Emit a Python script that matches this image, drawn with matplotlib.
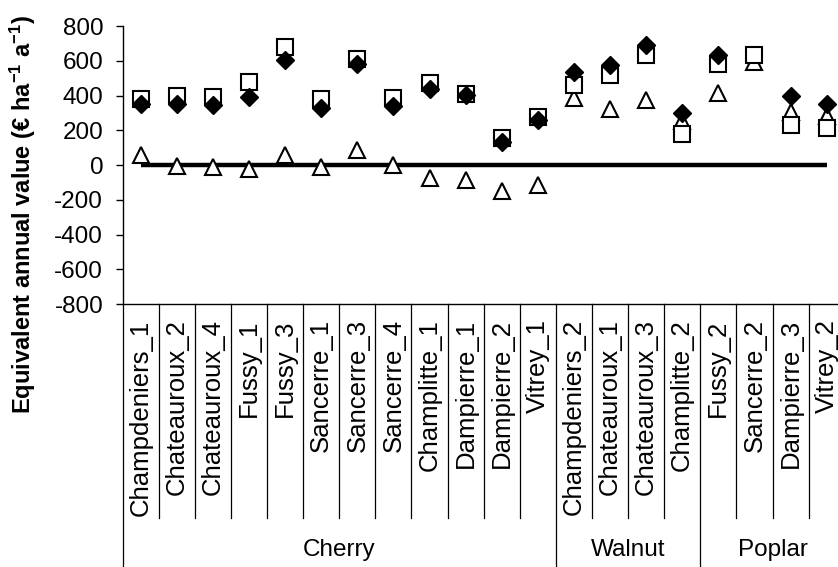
import numpy as np
import matplotlib
matplotlib.use("Agg")
import matplotlib.pyplot as plt
from matplotlib.lines import Line2D

plt.rcParams['font.family'] = ['Liberation Sans', 'DejaVu Sans']
plt.rcParams['mathtext.default'] = 'regular'
plt.rcParams['axes.unicode_minus'] = False

sites = ["Champdeniers_1", "Chateauroux_2", "Chateauroux_4", "Fussy_1", "Fussy_3",
         "Sancerre_1", "Sancerre_3", "Sancerre_4", "Champlitte_1", "Dampierre_1",
         "Dampierre_2", "Vitrey_1",
         "Champdeniers_2", "Chateauroux_1", "Chateauroux_3", "Champlitte_2",
         "Fussy_2", "Sancerre_2", "Dampierre_3", "Vitrey_2"]
groups = ["Cherry", "Walnut", "Poplar"]
group_sizes = [12, 4, 4]

# series values (EUR ha-1 a-1)
squares = [380, 397, 393, 476, 681, 378, 608, 384, 474, 407,
           153, 278, 459, 516, 631, 177, 583, 631, 232, 213]
diamonds = [351, 351, 345, 393, 604, 326, 579, 340, 436, 403,
            134, 259, 533, 575, 690, 297, 633, np.nan, 399, 351]
triangles = [57, -6, -10, -21, 57, -10, 86, 0, -77, -86,
             -152, -113, 387, 324, 372, 255, 414, 595, 305, 280]
baseline = [0] * len(sites)

yticks = [-800, -600, -400, -200, 0, 200, 400, 600, 800]

fig = plt.figure(figsize=(8.38, 5.67), dpi=100)
ax = fig.add_axes([0.1464, 0.4638, 0.8616, 0.4903])

x = np.arange(len(sites))
ax.plot(x, baseline, color='black', lw=3.2, zorder=1, solid_capstyle='butt')
ax.plot(x, triangles, ls='none', marker='^', ms=12, mfc='white', mec='black', mew=1.5, zorder=2)
ax.plot(x, squares, ls='none', marker='s', ms=11, mfc='white', mec='black', mew=1.5, zorder=3)
ax.plot(x, diamonds, ls='none', marker='D', ms=9, mfc='black', mec='black', mew=1, zorder=4)

ax.set_xlim(-0.5, len(sites) - 0.5)
ax.set_ylim(-800, 800)
ax.set_yticks(yticks)
ax.tick_params(axis='y', direction='out', length=5, width=1, pad=9, labelsize=17.5)
ax.set_xticks(x)
ax.set_xticklabels(sites, rotation=90, fontsize=18.5, va='top', ha='center')
ax.tick_params(axis='x', length=0, pad=11)
ax.spines['top'].set_visible(False)
ax.spines['right'].set_visible(False)
for s in ['left', 'bottom']:
    ax.spines[s].set_linewidth(1)

trans = ax.get_xaxis_transform()
# dividers between categories
bounds = np.cumsum([0] + group_sizes)
for b in range(len(sites) + 1):
    xb = b - 0.5
    if b in bounds:
        y0 = -1.2
    else:
        y0 = -0.77
    ax.add_line(Line2D([xb, xb], [0, y0], transform=trans, color='black', lw=0.9, clip_on=False))

for g, (a, b) in zip(groups, zip(bounds[:-1], bounds[1:])):
    xc = (a - 0.5 + b - 0.5) / 2
    ax.text(xc, -0.885, g, transform=trans, ha='center', va='center', fontsize=17.5)

fig.text(23 / 838, 1 - 215 / 567, r"Equivalent annual value (€ ha$^{-1}$ a$^{-1}$)",
         rotation=90, ha='center', va='center', fontsize=17, fontweight='bold')

fig.savefig("out.png", dpi=100)
